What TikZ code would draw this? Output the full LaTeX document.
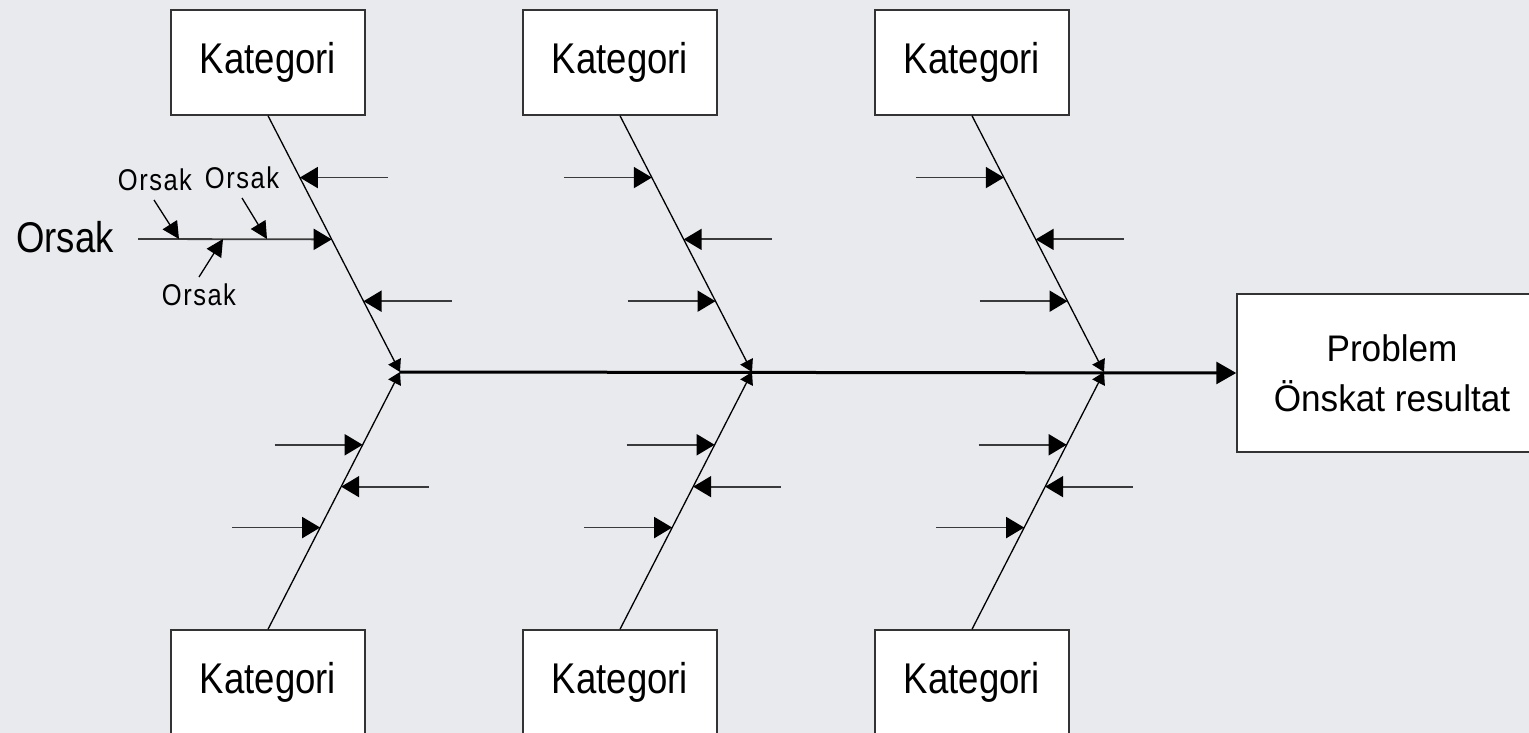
\documentclass[tikz,border=0pt]{standalone}
\usepackage{fontspec}
\setmainfont{Liberation Sans}
\newfontfamily\katfont[FakeStretch=0.85]{Liberation Sans}
\newfontfamily\probfont[FakeStretch=0.95]{Liberation Sans}
\newfontfamily\smallfont[FakeStretch=0.85,LetterSpace=5]{Liberation Sans}
\usetikzlibrary{arrows.meta,calc}
\definecolor{bgc}{RGB}{233,234,238}
\definecolor{boxline}{RGB}{51,51,51}
\definecolor{causeline}{RGB}{58,58,58}
\begin{document}
\begin{tikzpicture}[x=1pt,y=-1pt,
  catbox/.style={draw=boxline,line width=1.5pt,fill=white,minimum width=194pt,
    minimum height=105pt,inner sep=0pt,font=\katfont\fontsize{43}{50}\selectfont},
  probbox/.style={draw=boxline,line width=1.5pt,fill=white,minimum width=310pt,
    minimum height=158pt,inner sep=0pt,align=center,font=\probfont\fontsize{37}{50}\selectfont},
  biglab/.style={inner sep=0pt,font=\katfont\fontsize{43}{50}\selectfont},
  smalllab/.style={inner sep=0pt,font=\smallfont\fontsize{30}{36}\selectfont},
  bone/.style={line width=1.3pt,-{Triangle[length=12pt,width=14pt,color=black]}},
  cause/.style={draw=causeline,line width=1.8pt,-{Triangle[length=18pt,width=21pt,color=black]}},
  subcause/.style={line width=1.3pt,-{Triangle[length=17pt,width=17pt,color=black]}},
  spine/.style={line width=3pt,-{Triangle[length=20pt,width=22pt,color=black]}}]
\useasboundingbox (0,0) rectangle (1529,733);
\fill[bgc] (0,0) rectangle (1529,733);
\clip (0,0) rectangle (1529,733);

% category boxes
\node[catbox] (t1) at (268,62.5) {Kategori};
\node[catbox] (t2) at (620,62.5) {Kategori};
\node[catbox] (t3) at (972,62.5) {Kategori};
\node[catbox] (b1) at (268,682.5) {Kategori};
\node[catbox] (b2) at (620,682.5) {Kategori};
\node[catbox] (b3) at (972,682.5) {Kategori};

% problem box
\node[probbox] (prob) at (1392,373) {Problem\\Önskat resultat};

% junctions on spine
\coordinate (j1) at (400,372);
\coordinate (j2) at (752,372);
\coordinate (j3) at (1104,372);

% spine
\draw[spine] (j1) -- (prob.west);

% bones and cause points
\foreach \i in {1,2,3} {
  \draw[bone] (t\i.south) -- (j\i);
  \draw[bone] (b\i.north) -- (j\i);
  \coordinate (ta\i) at ($(t\i.south)!0.2412!(j\i)$);
  \coordinate (tb\i) at ($(t\i.south)!0.4825!(j\i)$);
  \coordinate (tc\i) at ($(t\i.south)!0.7237!(j\i)$);
  \coordinate (ba\i) at ($(b\i.north)!0.7171!(j\i)$);
  \coordinate (bb\i) at ($(b\i.north)!0.5543!(j\i)$);
  \coordinate (bc\i) at ($(b\i.north)!0.3953!(j\i)$);
  % bottom causes
  \coordinate (sba\i) at ($(ba\i)+(-88,0)$);
  \coordinate (sbb\i) at ($(bb\i)+(88,0)$);
  \coordinate (sbc\i) at ($(bc\i)+(-88,0)$);
  \draw[cause] (sba\i) -- (ba\i);
  \draw[cause] (sbb\i) -- (bb\i);
  \draw[cause] (sbc\i) -- (bc\i);
}

% top causes, middle and right bones
\foreach \i in {2,3} {
  \coordinate (sta\i) at ($(ta\i)+(-88,0)$);
  \coordinate (stb\i) at ($(tb\i)+(88,0)$);
  \coordinate (stc\i) at ($(tc\i)+(-88,0)$);
  \draw[cause] (sta\i) -- (ta\i);
  \draw[cause] (stb\i) -- (tb\i);
  \draw[cause] (stc\i) -- (tc\i);
}

% top causes, left bone
\coordinate (sta1) at ($(ta1)+(88,0)$);
\coordinate (stc1) at ($(tc1)+(88,0)$);
\draw[cause] (sta1) -- (ta1);
\draw[cause] (stc1) -- (tc1);

% main cause with sub-causes
\node[biglab] (orsak) at (65,237) {Orsak};
\coordinate (mainstart) at (138,239);
\draw[cause] (mainstart) -- (tb1);

\node[smalllab] (s1) at (155,179.5) {Orsak};
\node[smalllab] (s2) at (242,177.5) {Orsak};
\node[smalllab] (s3) at (199,295) {Orsak};
\coordinate (s1a) at (154,200);
\coordinate (s1b) at (179,239);
\coordinate (s2a) at (242,198);
\coordinate (s2b) at (267,239);
\coordinate (s3a) at (199,277);
\coordinate (s3b) at (223,239);
\draw[subcause] (s1a) -- (s1b);
\draw[subcause] (s2a) -- (s2b);
\draw[subcause] (s3a) -- (s3b);
\end{tikzpicture}
\end{document}
